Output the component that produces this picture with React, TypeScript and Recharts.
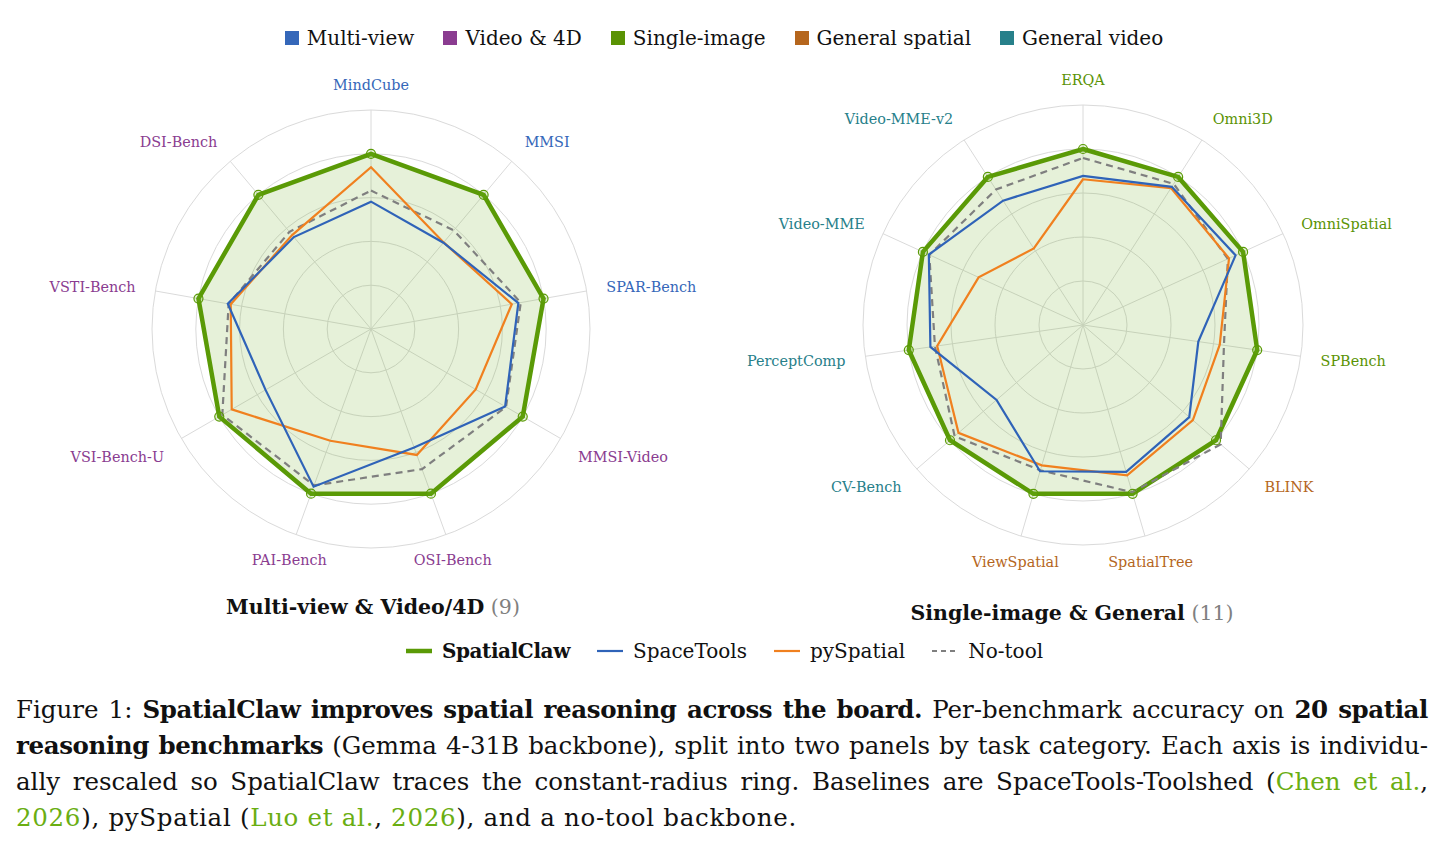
import React from 'react';
import { RadarChart, Radar, PolarGrid, PolarAngleAxis, PolarRadiusAxis } from 'recharts';

const FONT = '"DejaVu Serif", serif';

// Benchmark categories and their colours
const categoryNames = ['Multi-view', 'Video & 4D', 'Single-image', 'General spatial', 'General video'];
const categoryColors = ['#3567b9', '#8a3c90', '#5a9304', '#b5661d', '#27808a'];

// Methods
const seriesNames = ['SpatialClaw', 'SpaceTools', 'pySpatial', 'No-tool'];
const seriesColors = ['#5a9a06', '#2f63b8', '#f0801f', '#7f7f7f'];

// Panel 1: Multi-view & Video/4D (scores rescaled per axis, SpatialClaw = 1)
const leftBenchmarks = ['MindCube', 'MMSI', 'SPAR-Bench', 'MMSI-Video', 'OSI-Bench', 'PAI-Bench', 'VSI-Bench-U', 'VSTI-Bench', 'DSI-Bench'];
const leftCategory = [0, 0, 0, 1, 1, 1, 1, 1, 1];
const leftSpatialClaw = [1, 1, 1, 1, 1, 1, 1, 1, 1];
const leftSpaceTools = [0.727, 0.643, 0.854, 0.884, 0.72, 0.958, 0.695, 0.83, 0.685];
const leftPySpatial = [0.923, 0.645, 0.816, 0.69, 0.765, 0.679, 0.918, 0.813, 0.7];
const leftNoTool = [0.79, 0.735, 0.868, 0.89, 0.851, 0.95, 0.98, 0.825, 0.724];

// Panel 2: Single-image & General
const rightBenchmarks = ['ERQA', 'Omni3D', 'OmniSpatial', 'SPBench', 'BLINK', 'SpatialTree', 'ViewSpatial', 'CV-Bench', 'PerceptComp', 'Video-MME', 'Video-MME-v2'];
const rightCategory = [2, 2, 2, 2, 3, 3, 3, 4, 4, 4, 4];
const rightSpatialClaw = [1, 1, 1, 1, 1, 1, 1, 1, 1, 1, 1];
const rightSpaceTools = [0.847, 0.933, 0.953, 0.662, 0.799, 0.87, 0.866, 0.65, 0.876, 0.963, 0.84];
const rightPySpatial = [0.828, 0.925, 0.912, 0.785, 0.826, 0.89, 0.831, 0.936, 0.837, 0.652, 0.517];
const rightNoTool = [0.949, 0.953, 0.905, 0.809, 1.035, 0.99, 0.86, 0.965, 0.85, 0.96, 0.915];

// Radial scale and its ring values
const RADIUS_MAX = 1.25;
const ringValues = [0.25, 0.5, 0.75, 1.0, 1.25];

function buildRows(names: string[], cats: number[], series: number[][]) {
  return names.map((name, i) => ({
    name,
    category: cats[i],
    SpatialClaw: series[0][i],
    SpaceTools: series[1][i],
    pySpatial: series[2][i],
    NoTool: series[3][i],
  }));
}

const leftRows = buildRows(leftBenchmarks, leftCategory, [leftSpatialClaw, leftSpaceTools, leftPySpatial, leftNoTool]);
const rightRows = buildRows(rightBenchmarks, rightCategory, [rightSpatialClaw, rightSpaceTools, rightPySpatial, rightNoTool]);

function makeTick(cx: number, cy: number, outer: number, names: string[], cats: number[]) {
  return (props: any) => {
    const { payload } = props;
    const idx = names.indexOf(payload.value);
    const rad = (payload.coordinate * Math.PI) / 180;
    const dx = Math.cos(rad);
    const dy = -Math.sin(rad);
    const x = cx + (outer + 20) * dx;
    const y = cy + (outer + 26) * dy;
    const anchor = Math.abs(dx) < 0.4 ? 'middle' : dx > 0 ? 'start' : 'end';
    // lower-side labels sit a little further down
    const shift = Math.abs(dx) > 0.6 && dy > 0.3 && dy < 0.6 ? 4 : 0;
    return (
      <text
        x={x}
        y={y + 1 + shift}
        textAnchor={anchor}
        dominantBaseline="central"
        fill={categoryColors[cats[idx]]}
        fontSize={14.4}
        fontFamily={FONT}
      >
        {payload.value}
      </text>
    );
  };
}

function Panel(props: { rows: any[]; names: string[]; cats: number[]; width: number; height: number; cx: number; cy: number; outer: number }) {
  const { rows, names, cats, width, height, cx, cy, outer } = props;
  const rings = ringValues.map((v) => (v / RADIUS_MAX) * outer);
  return (
    <RadarChart
      width={width}
      height={height}
      data={rows}
      cx={cx}
      cy={cy}
      outerRadius={outer}
      margin={{ top: 0, right: 0, bottom: 0, left: 0 }}
    >
      <PolarGrid gridType="circle" stroke="#dadada" strokeWidth={1} polarRadius={rings} outerRadius={outer} innerRadius={0} />
      <PolarAngleAxis dataKey="name" tickLine={false} axisLine={false} tick={makeTick(cx, cy, outer, names, cats)} />
      <PolarRadiusAxis domain={[0, RADIUS_MAX]} tickCount={6} tick={false} axisLine={false} />
      <Radar
        name={seriesNames[0]}
        dataKey="SpatialClaw"
        stroke={seriesColors[0]}
        strokeWidth={4.5}
        fill="#6aaa20"
        fillOpacity={0.17}
        dot={{ r: 4.5, fill: '#79b92c', stroke: '#5a9a06', strokeWidth: 1.2 }}
        isAnimationActive={false}
      />
      <Radar
        name={seriesNames[3]}
        dataKey="NoTool"
        stroke={seriesColors[3]}
        strokeWidth={2.2}
        strokeDasharray="7 5"
        fill="none"
        fillOpacity={0}
        dot={{ r: 3, fill: seriesColors[3], stroke: 'none', strokeDasharray: '0' }}
        isAnimationActive={false}
      />
      <Radar
        name={seriesNames[2]}
        dataKey="pySpatial"
        stroke={seriesColors[2]}
        strokeWidth={2.2}
        fill="none"
        fillOpacity={0}
        dot={{ r: 3, fill: seriesColors[2], stroke: 'none' }}
        isAnimationActive={false}
      />
      <Radar
        name={seriesNames[1]}
        dataKey="SpaceTools"
        stroke={seriesColors[1]}
        strokeWidth={2.2}
        fill="none"
        fillOpacity={0}
        dot={{ r: 3, fill: seriesColors[1], stroke: 'none' }}
        isAnimationActive={false}
      />
    </RadarChart>
  );
}

function LineSwatch({ color, width, dashed }: { color: string; width: number; dashed?: boolean }) {
  return (
    <svg width={28} height={10} style={{ display: 'block' }}>
      <line x1={1} y1={5} x2={27} y2={5} stroke={color} strokeWidth={width} strokeDasharray={dashed ? '5 4' : undefined} />
    </svg>
  );
}

const linkColor = '#6aae12';
const justified: React.CSSProperties = { textAlign: 'justify', textAlignLast: 'justify', whiteSpace: 'nowrap' };
const boldTight: React.CSSProperties = { fontWeight: 700, letterSpacing: -0.4 };

export default function App() {
  return (
    <div style={{ position: 'absolute', left: 0, top: 0, width: 1448, height: 849, background: '#fff', fontFamily: FONT, color: '#111' }}>
      {/* category legend */}
      <div style={{ position: 'absolute', top: 24, left: 0, width: 1448, display: 'flex', justifyContent: 'center', alignItems: 'center', gap: 29, fontSize: 20, lineHeight: '28px' }}>
        {categoryNames.map((c, i) => (
          <div key={c} style={{ display: 'flex', alignItems: 'center' }}>
            <div style={{ width: 14, height: 14, background: categoryColors[i], marginRight: 8 }} />
            <span>{c}</span>
          </div>
        ))}
      </div>

      <div style={{ position: 'absolute', left: 0, top: 0 }}>
        <Panel rows={leftRows} names={leftBenchmarks} cats={leftCategory} width={724} height={590} cx={371} cy={329} outer={219} />
      </div>
      <div style={{ position: 'absolute', left: 724, top: 0 }}>
        <Panel rows={rightRows} names={rightBenchmarks} cats={rightCategory} width={724} height={590} cx={359} cy={325} outer={220} />
      </div>

      {/* panel titles */}
      <div style={{ position: 'absolute', left: 73, width: 600, top: 593, textAlign: 'center', fontSize: 20.5, lineHeight: '28px' }}>
        <b>Multi-view &amp; Video/4D</b> <span style={{ color: '#808080' }}>(9)</span>
      </div>
      <div style={{ position: 'absolute', left: 772, width: 600, top: 599, textAlign: 'center', fontSize: 20.5, lineHeight: '28px' }}>
        <b>Single-image &amp; General</b> <span style={{ color: '#808080' }}>(11)</span>
      </div>

      {/* method legend */}
      <div style={{ position: 'absolute', top: 637, left: 0, width: 1448, display: 'flex', justifyContent: 'center', alignItems: 'center', gap: 26, fontSize: 20, lineHeight: '28px' }}>
        {seriesNames.map((s, i) => (
          <div key={s} style={{ display: 'flex', alignItems: 'center' }}>
            <LineSwatch color={seriesColors[i]} width={i === 0 ? 4.5 : 2.2} dashed={i === 3} />
            <span style={{ marginLeft: 9, fontWeight: i === 0 ? 700 : 400, letterSpacing: i === 0 ? -0.4 : 0 }}>{s}</span>
          </div>
        ))}
      </div>

      {/* caption */}
      <div style={{ position: 'absolute', left: 16, top: 692, width: 1412, fontSize: 24.5, lineHeight: '36px', color: '#111' }}>
        <div style={justified}>
          Figure 1: <span style={boldTight}>SpatialClaw improves spatial reasoning across the board.</span> Per-benchmark accuracy on <span style={boldTight}>20 spatial</span>
        </div>
        <div style={justified}>
          <span style={boldTight}>reasoning benchmarks</span> (Gemma 4-31B backbone), split into two panels by task category. Each axis is individu-
        </div>
        <div style={justified}>
          ally rescaled so SpatialClaw traces the constant-radius ring. Baselines are SpaceTools-Toolshed (<span style={{ color: linkColor }}>Chen et al.</span>,
        </div>
        <div style={{ whiteSpace: 'nowrap', letterSpacing: 0.7 }}>
          <span style={{ color: linkColor }}>2026</span>), pySpatial (<span style={{ color: linkColor }}>Luo et al.</span>, <span style={{ color: linkColor }}>2026</span>), and a no-tool backbone.
        </div>
      </div>
    </div>
  );
}
